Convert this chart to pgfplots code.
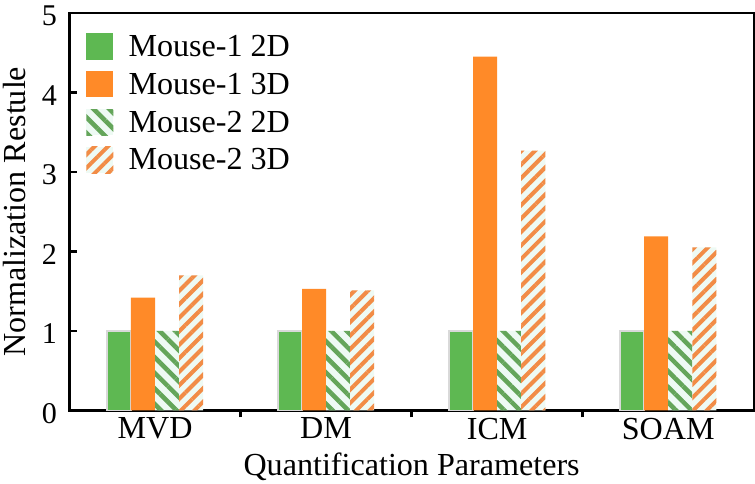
\documentclass[border=0pt]{standalone}
\usepackage{fontspec}
\setmainfont{Liberation Serif}
\usepackage{pgfplots}
\pgfplotsset{compat=1.18}
\usetikzlibrary{patterns.meta}
\definecolor{mgreen}{RGB}{94,184,82}
\definecolor{morange}{RGB}{255,138,40}
\definecolor{hgreen}{RGB}{100,165,90}
\definecolor{horange}{RGB}{242,140,70}
\definecolor{hbg}{RGB}{238,250,244}
\begin{document}
\begin{tikzpicture}
\begin{axis}[
  scale only axis,
  width=682pt, height=396pt,
  ymin=0, ymax=5, ytick={0,1,2,3,4,5},
  xmin=-0.5, xmax=3.5,
  xtick={0.5,1.5,2.5}, xticklabels={},
  extra x ticks={0,1,2,3},
  extra x tick labels={MVD,DM,ICM,SOAM},
  extra x tick style={major tick length=0pt},
  tick pos=left, tick align=inside,
  major tick length=7pt,
  axis line style={line width=2.5pt},
  every tick/.style={line width=2.5pt, black},
  ybar=0pt, bar width=24pt,
  /pgf/number format/assume math mode=true,
  tick label style={font=\fontsize{30}{36}\selectfont},
  yticklabel style={xshift=-9pt, yshift=-3pt},
  xticklabel style={font=\fontsize{32}{38}\selectfont, yshift=-4pt},
  label style={font=\fontsize{32}{38}\selectfont},
  xlabel={Quantification Parameters},
  ylabel={Normalization Restule},
  xlabel style={yshift=1pt},
  ylabel style={yshift=9pt},
  legend style={at={(0.02,0.955)}, anchor=north west, draw=none, fill=none,
    font=\fontsize{32}{38}\selectfont, row sep=11pt,
    /tikz/every odd column/.append style={column sep=13pt}},
  legend image code/.code={\draw[#1,draw=none] (0pt,-13pt) rectangle (27pt,13pt);},
  legend cell align=left,
  after end axis/.code={\path (rel axis cs:0,1) ++(0pt,13pt);},
]
\addplot[fill=mgreen, draw=black!15, line width=1.5pt] coordinates {(0,1) (1,1) (2,1) (3,1)};
\addplot[fill=morange, draw=none] coordinates {(0,1.42) (1,1.53) (2,4.45) (3,2.19)};
\addplot[fill=hbg, draw=none, postaction={pattern={Lines[angle=-45,distance=11pt,line width=4.5pt]}, pattern color=hgreen}] coordinates {(0,1) (1,1) (2,1) (3,1)};
\addplot[fill=hbg, draw=none, postaction={pattern={Lines[angle=45,distance=9.5pt,line width=4pt]}, pattern color=horange}] coordinates {(0,1.70) (1,1.51) (2,3.27) (3,2.05)};
\legend{Mouse-1 2D, Mouse-1 3D, Mouse-2 2D, Mouse-2 3D}
\end{axis}
\end{tikzpicture}
\end{document}
